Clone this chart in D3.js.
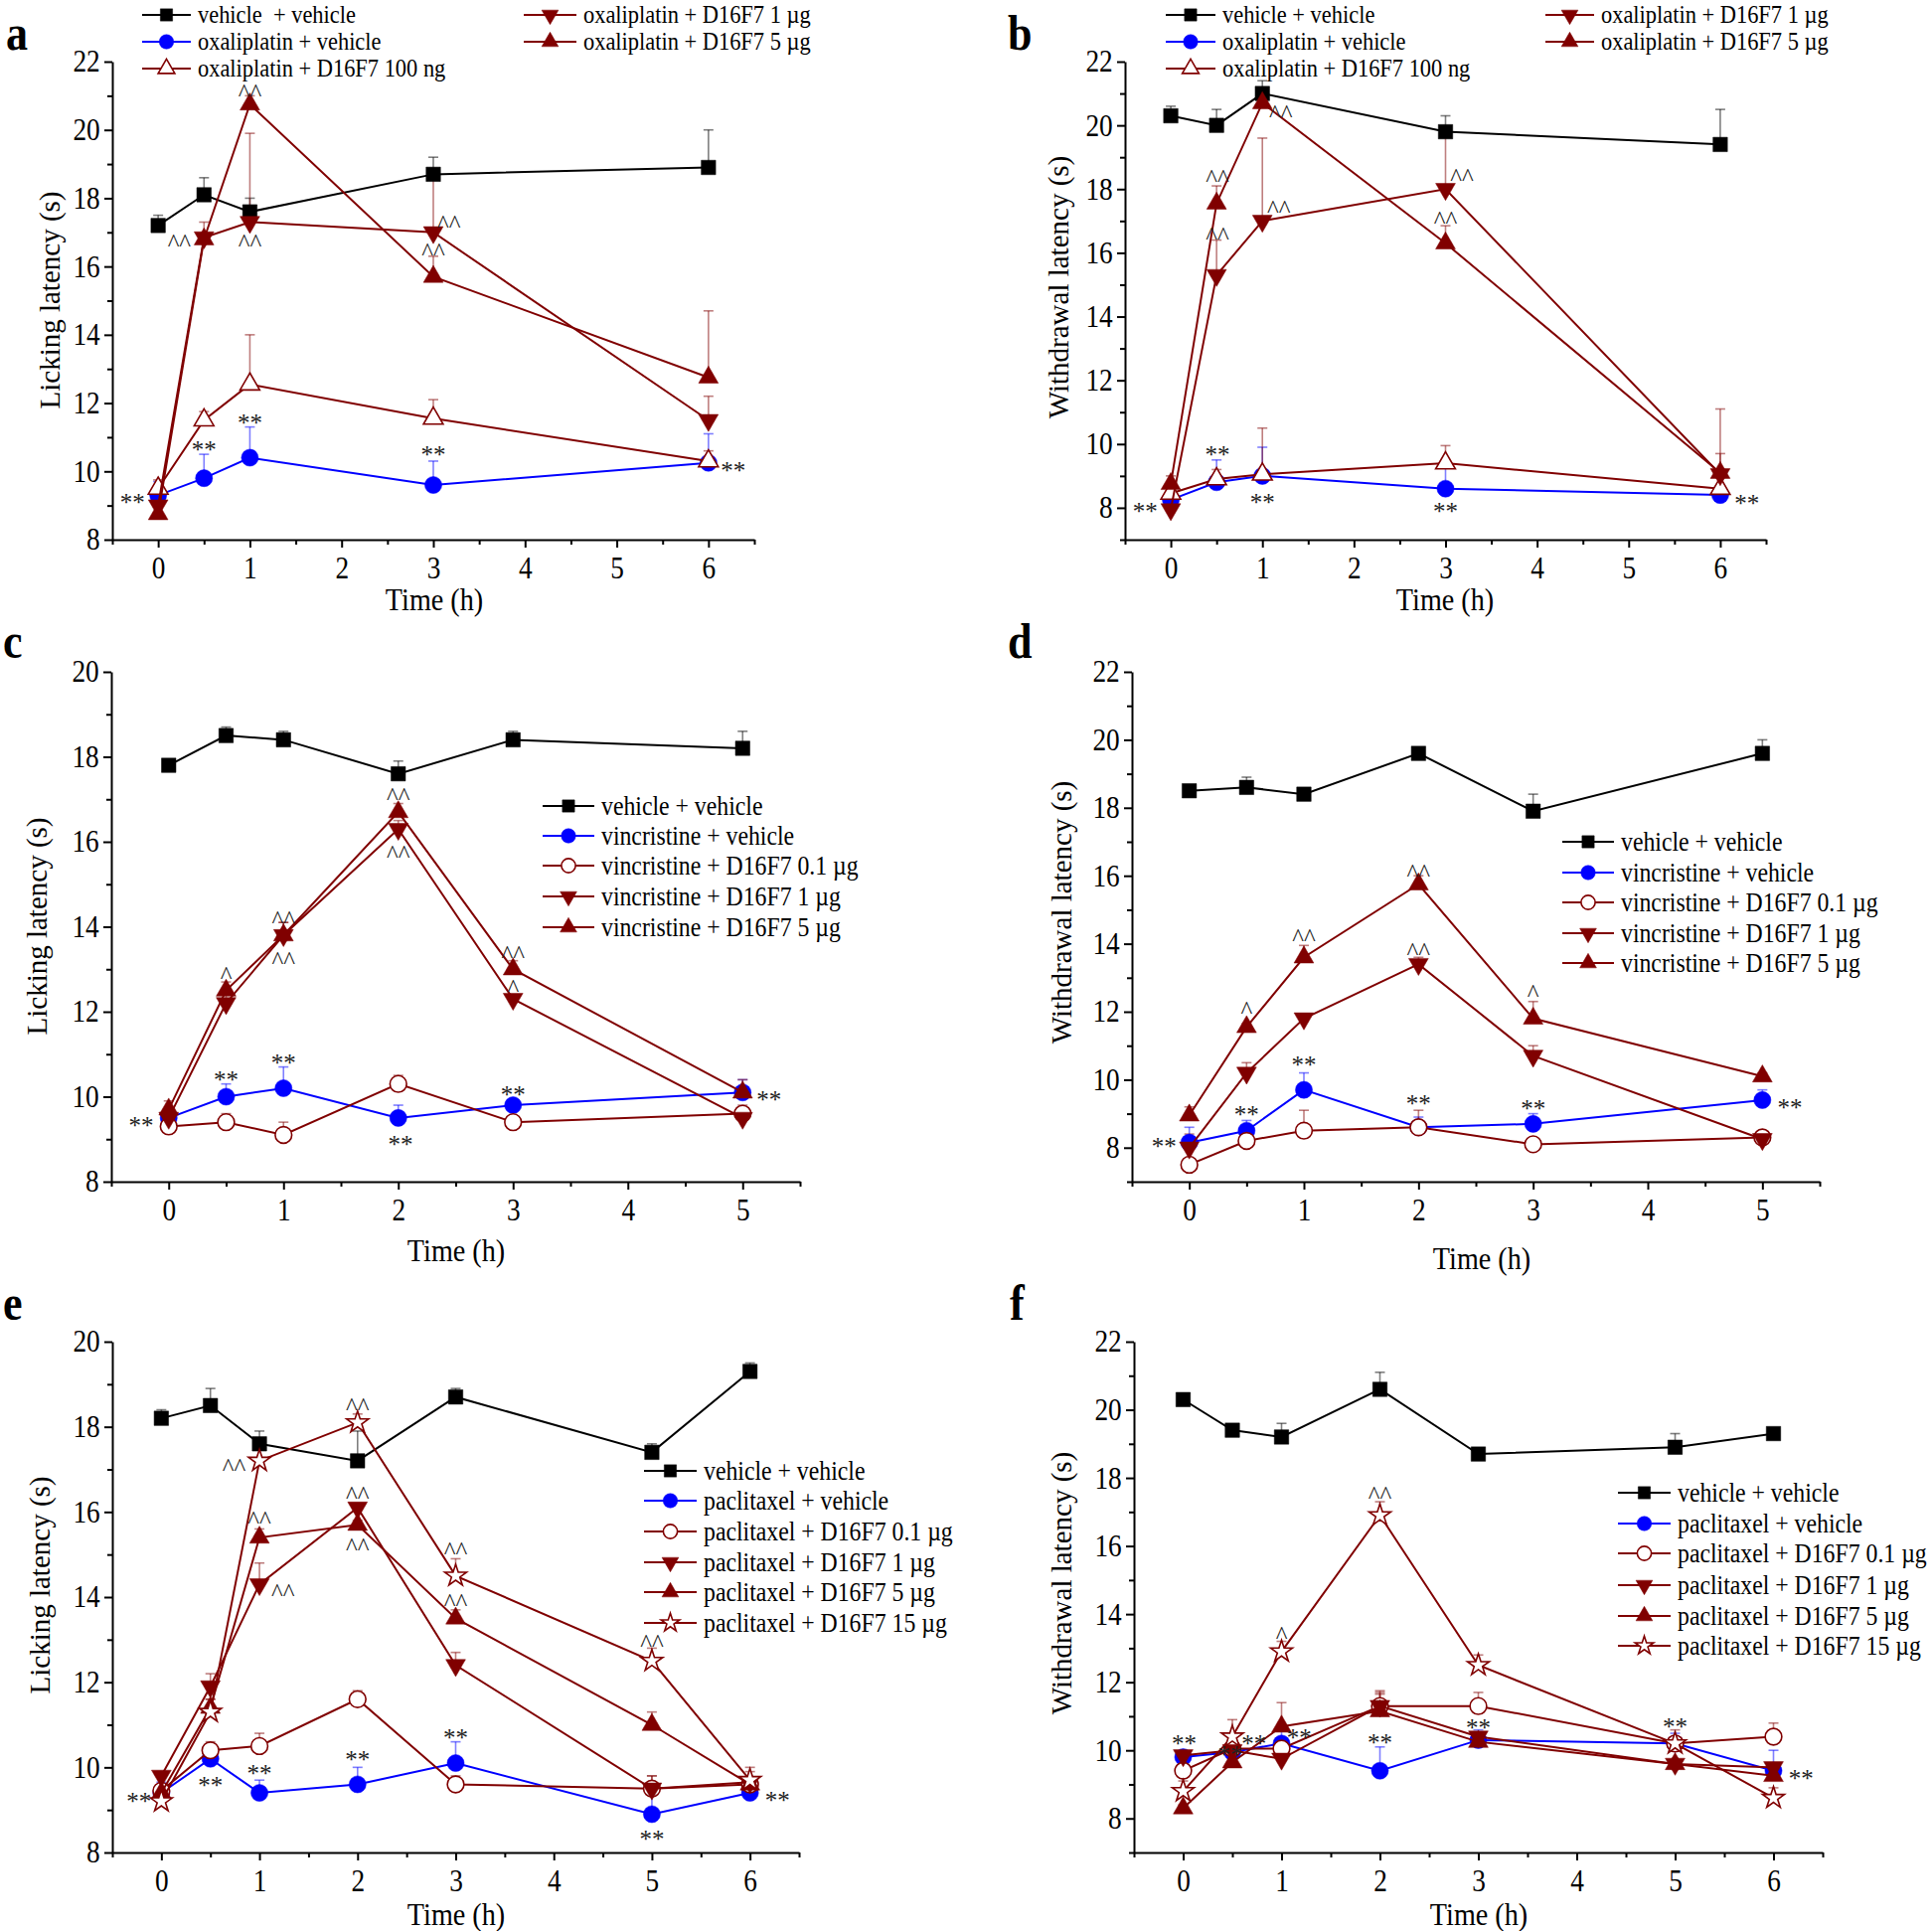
<!DOCTYPE html>
<html>
<head>
<meta charset="utf-8">
<script src="https://cdn.jsdelivr.net/npm/d3@7"></script>
<style>
  body { margin: 0; background: #fff; }
  svg text { font-family: "Liberation Serif", "Times New Roman", serif; }
</style>
</head>
<body>
<div id="chart"></div>
<script>
// ---- data (mean, +SEM) ----
var timesA = [0, 0.5, 1, 3, 6];
var labelsA = ["vehicle  + vehicle", "oxaliplatin + vehicle", "oxaliplatin + D16F7 100 ng", "oxaliplatin + D16F7 1 \u00b5g", "oxaliplatin + D16F7 5 \u00b5g"];
var meansA = [
  [17.2, 18.1, 17.6, 18.7, 18.9],
  [9.3, 9.8, 10.4, 9.6, 10.25],
  [9.5, 11.5, 12.55, 11.55, 10.3],
  [9.0, 16.85, 17.3, 17.0, 11.5],
  [8.75, 16.8, 20.75, 15.7, 12.75]
];
var errsA = [
  [0.3, 0.5, 0.4, 0.5, 1.1],
  [0.4, 0.7, 0.9, 0.7, 0.85],
  [0.25, 0.25, 1.45, 0.55, 0.3],
  [0, 0.45, 2.6, 1.8, 0.7],
  [0, 0, 0.25, 0.6, 1.95]
];
var notesA = [[-0.28, 9.2, "**"], [0.23, 16.8, "^^"], [1, 16.8, "^^"], [1, 21.2, "^^"], [3.17, 17.35, "^^"], [3, 16.55, "^^"],
  [0.5, 10.75, "**"], [1, 11.55, "**"], [3, 10.6, "**"], [6.27, 10.15, "**"]];

var timesB = [0, 0.5, 1, 3, 6];
var labelsB = ["vehicle + vehicle", "oxaliplatin + vehicle", "oxaliplatin + D16F7 100 ng", "oxaliplatin + D16F7 1 \u00b5g", "oxaliplatin + D16F7 5 \u00b5g"];
var meansB = [
  [20.3, 20.0, 21.0, 19.8, 19.4],
  [8.25, 8.8, 9.0, 8.6, 8.4],
  [8.45, 8.9, 9.05, 9.4, 8.6],
  [7.95, 15.3, 17.0, 18.0, 9.05],
  [8.75, 17.55, 20.7, 16.3, 9.1]
];
var errsB = [
  [0.3, 0.5, 0.4, 0.5, 1.1],
  [0.2, 0.7, 0.9, 0.7, 0],
  [0, 0.3, 1.45, 0.55, 0],
  [0, 1.1, 2.6, 1.8, 0.65],
  [0.25, 0.55, 0, 0.55, 2.0]
];
var notesB = [[-0.28, 8.0, "**"], [0.51, 18.45, "^^"], [0.51, 16.65, "^^"], [1.2, 20.5, "^^"], [1.18, 17.5, "^^"], [3.18, 18.5, "^^"],
  [3.0, 17.15, "^^"], [0.51, 9.8, "**"], [1.0, 8.3, "**"], [3.0, 8.0, "**"], [6.29, 8.25, "**"]];

var timesC = [0, 0.5, 1, 2, 3, 5];
var labelsC = ["vehicle + vehicle", "vincristine + vehicle", "vincristine + D16F7 0.1 \u00b5g", "vincristine + D16F7 1 \u00b5g", "vincristine + D16F7 5 \u00b5g"];
var meansC = [
  [17.8, 18.5, 18.4, 17.6, 18.4, 18.2],
  [9.5, 10.0, 10.2, 9.5, 9.8, 10.1],
  [9.3, 9.4, 9.1, 10.3, 9.4, 9.6],
  [9.5, 12.2, 13.8, 16.3, 12.3, 9.5],
  [9.7, 12.5, 13.8, 16.7, 13.0, 10.1]
];
var errsC = [
  [0.1, 0.2, 0.2, 0.3, 0.2, 0.4],
  [0.1, 0.3, 0.5, 0.3, 0.1, 0.3],
  [0.1, 0.2, 0.3, 0.2, 0.1, 0.2],
  [0.1, 0.2, 0.3, 0.2, 0.1, 0.1],
  [0.2, 0.2, 0.3, 0.2, 0.2, 0.3]
];
var notesC = [[-0.24, 9.42, "**"], [0.5, 12.95, "^"], [1, 14.25, "^^"], [1, 13.3, "^^"], [2, 17.15, "^^"], [2, 15.8, "^^"],
  [3, 13.45, "^^"], [3, 12.65, "^"], [0.5, 10.5, "**"], [1, 10.9, "**"], [2.02, 8.97, "**"], [3, 10.15, "**"], [5.23, 10.02, "**"]];

var timesD = [0, 0.5, 1, 2, 3, 5];
var labelsD = labelsC;
var meansD = [
  [18.5, 18.6, 18.4, 19.6, 17.9, 19.6],
  [8.15, 8.5, 9.7, 8.6, 8.7, 9.4],
  [7.5, 8.2, 8.5, 8.6, 8.1, 8.3],
  [8.0, 10.2, 11.8, 13.4, 10.7, 8.25],
  [8.95, 11.55, 13.6, 15.75, 11.8, 10.1]
];
var errsD = [
  [0.1, 0.3, 0.1, 0.1, 0.5, 0.4],
  [0.45, 0.3, 0.5, 0.3, 0.3, 0.3],
  [0.1, 0.1, 0.6, 0.5, 0.1, 0.2],
  [0.4, 0.3, 0.1, 0.2, 0.3, 0.1],
  [0.25, 0.1, 0.35, 0.25, 0.5, 0.1]
];
var notesD = [[-0.22, 8.15, "**"], [0.5, 12.15, "^"], [1, 14.3, "^^"], [2, 16.2, "^^"], [2, 13.9, "^^"], [3, 12.65, "^"],
  [0.5, 9.1, "**"], [1, 10.55, "**"], [2, 9.4, "**"], [3, 9.27, "**"], [5.24, 9.3, "**"]];

var timesE = [0, 0.5, 1, 2, 3, 5, 6];
var labelsE = ["vehicle + vehicle", "paclitaxel + vehicle", "paclitaxel + D16F7 0.1 \u00b5g", "paclitaxel + D16F7 1 \u00b5g", "paclitaxel + D16F7 5 \u00b5g", "paclitaxel + D16F7 15 \u00b5g"];
var meansE = [
  [18.2, 18.5, 17.6, 17.2, 18.7, 17.4, 19.3],
  [9.4, 10.2, 9.4, 9.6, 10.1, 8.9, 9.4],
  [9.45, 10.4, 10.5, 11.6, 9.6, 9.5, 9.6],
  [9.8, 11.9, 14.3, 16.1, 12.4, 9.5, 9.65],
  [9.4, 11.4, 15.4, 15.7, 13.5, 11.0, 9.6],
  [9.2, 11.3, 17.2, 18.1, 14.5, 12.5, 9.7]
];
var errsE = [
  [0.2, 0.4, 0.3, 0.7, 0.2, 0.2, 0.2],
  [0.25, 0.2, 0.3, 0.4, 0.5, 0.6, 0.1],
  [0.1, 0.2, 0.3, 0.2, 0.2, 0.3, 0.3],
  [0.1, 0.3, 0.5, 0.1, 0.3, 0.3, 0.1],
  [0.1, 0.2, 0.2, 0.1, 0.2, 0.3, 0.1],
  [0.1, 0.3, 0.4, 0.2, 0.4, 0.3, 0.3]
];
var notesE = [[-0.23, 9.3, "**"], [0.74, 17.15, "^^"], [1, 15.9, "^^"], [1.24, 14.2, "^^"], [2, 18.57, "^^"], [2, 16.48, "^^"],
  [2, 15.27, "^^"], [3, 15.17, "^^"], [3, 13.96, "^^"], [5, 13.0, "^^"], [0.5, 9.68, "**"], [1, 9.95, "**"], [2, 10.28, "**"],
  [3, 10.79, "**"], [5, 8.42, "**"], [6.28, 9.33, "**"]];

var timesF = [0, 0.5, 1, 2, 3, 5, 6];
var labelsF = labelsE;
var meansF = [
  [20.3, 19.4, 19.2, 20.6, 18.7, 18.9, 19.3],
  [9.8, 9.95, 10.2, 9.4, 10.3, 10.2, 9.4],
  [9.4, 10.05, 10.05, 11.3, 11.3, 10.2, 10.4],
  [9.85, 10.0, 9.75, 11.3, 10.4, 9.6, 9.5],
  [8.3, 9.65, 10.7, 11.15, 10.25, 9.6, 9.25],
  [8.8, 10.4, 12.9, 16.9, 12.5, 10.2, 8.6]
];
var errsF = [
  [0.1, 0.1, 0.4, 0.5, 0.1, 0.4, 0.1],
  [0.1, 0.1, 0.4, 0.7, 0.3, 0.3, 0.6],
  [0.1, 0.2, 0.2, 0.4, 0.4, 0.1, 0.4],
  [0.1, 0.1, 0.1, 0.45, 0.1, 0.1, 0.1],
  [0.1, 0.1, 0.7, 0.5, 0.1, 0.1, 0.1],
  [0.3, 0.5, 0.3, 0.4, 0.3, 0.4, 0.3]
];
var notesF = [[0.01, 10.32, "**"], [0.48, 9.98, "**"], [0.72, 10.32, "**"], [1.18, 10.48, "**"], [1, 13.5, "^"], [2, 17.62, "^^"],
  [2, 10.35, "**"], [3, 10.78, "**"], [5, 10.82, "**"], [6.28, 9.3, "**"]];

// ---- marker styles ----
var RED = "#800000", BLUE = "#0000ff", BLACK = "#000000";
var styles = {
  sq:  { shape: d3.symbolSquare,   size: 210, color: BLACK, fill: BLACK, rot: 0 },
  ci:  { shape: d3.symbolCircle,   size: 230, color: BLUE,  fill: BLUE,  rot: 0 },
  tuo: { shape: d3.symbolTriangle, size: 170, color: RED,   fill: "#fff", rot: 0 },
  cio: { shape: d3.symbolCircle,   size: 220, color: RED,   fill: "#fff", rot: 0 },
  td:  { shape: d3.symbolTriangle, size: 170, color: RED,   fill: RED,   rot: 180 },
  tu:  { shape: d3.symbolTriangle, size: 170, color: RED,   fill: RED,   rot: 0 },
  sto: { shape: d3.symbolStar,     size: 150, color: RED,   fill: "#fff", rot: 0 }
};

// the source figure is slightly stretched vertically, so horizontal text gets narrowed
var SX = 0.88;

var svg = d3.select("#chart").append("svg")
  .attr("width", 1944)
  .attr("height", 1943)
  .style("background", "#fff");

// layout of the six panels
var panels = [
  { letter: "a", lp: [6, 50], times: timesA, means: meansA, errs: errsA, notes: notesA, labels: labelsA, lf: 25.5,
    kinds: ["sq", "ci", "tuo", "td", "tu"], xr: [113, 759], xd: [-0.5, 6.5], yr: [543, 62], yd: [8, 22],
    ytitle: "Licking latency (s)", yt: [50, 302], xt: [437, 603],
    legend: [[143, 192, 15], [143, 192, 42], [143, 192, 69], [527, 580, 15], [527, 580, 42]] },
  { letter: "b", lp: [1014, 50], times: timesB, means: meansB, errs: errsB, notes: notesB, labels: labelsB, lf: 25.5,
    kinds: ["sq", "ci", "tuo", "td", "tu"], xr: [1132, 1777], xd: [-0.5, 6.5], yr: [543, 62], yd: [7, 22],
    ytitle: "Withdrawal latency (s)", yt: [1065, 289], xt: [1454, 603],
    legend: [[1173, 1223, 15], [1173, 1223, 42], [1173, 1223, 69], [1555, 1604, 15], [1555, 1604, 42]] },
  { letter: "c", lp: [3, 662], times: timesC, means: meansC, errs: errsC, notes: notesC, labels: labelsC, lf: 27,
    kinds: ["sq", "ci", "cio", "td", "tu"], xr: [112, 805], xd: [-0.5, 5.5], yr: [1189, 676], yd: [8, 20],
    ytitle: "Licking latency (s)", yt: [37, 932], xt: [459, 1258],
    legend: [[546, 598, 811], [546, 598, 841], [546, 598, 871], [546, 598, 902], [546, 598, 933]] },
  { letter: "d", lp: [1014, 662], times: timesD, means: meansD, errs: errsD, notes: notesD, labels: labelsD, lf: 27,
    kinds: ["sq", "ci", "cio", "td", "tu"], xr: [1139, 1831], xd: [-0.5, 5.5], yr: [1189, 676], yd: [7, 22],
    ytitle: "Withdrawal latency (s)", yt: [1068, 918], xt: [1491, 1266],
    legend: [[1572, 1624, 847], [1572, 1624, 878], [1572, 1624, 908], [1572, 1624, 939], [1572, 1624, 969]] },
  { letter: "e", lp: [3, 1328], times: timesE, means: meansE, errs: errsE, notes: notesE, labels: labelsE, lf: 27,
    kinds: ["sq", "ci", "cio", "td", "tu", "sto"], xr: [113, 804], xd: [-0.5, 6.5], yr: [1864, 1350], yd: [8, 20],
    ytitle: "Licking latency (s)", yt: [40, 1595], xt: [459, 1926],
    legend: [[648, 701, 1480], [648, 701, 1510], [648, 701, 1541], [648, 701, 1572], [648, 701, 1602], [648, 701, 1633]] },
  { letter: "f", lp: [1016, 1328], times: timesF, means: meansF, errs: errsF, notes: notesF, labels: labelsF, lf: 27,
    kinds: ["sq", "ci", "cio", "td", "tu", "sto"], xr: [1141, 1834], xd: [-0.5, 6.5], yr: [1864, 1350], yd: [7, 22],
    ytitle: "Withdrawal latency (s)", yt: [1068, 1593], xt: [1488, 1926],
    legend: [[1628, 1681, 1502], [1628, 1681, 1533], [1628, 1681, 1563], [1628, 1681, 1595], [1628, 1681, 1626], [1628, 1681, 1656]] }
];

function marker(sel, st, size) {
  sel.append("path")
    .attr("d", d3.symbol().type(st.shape).size(size)())
    .attr("fill", st.fill)
    .attr("stroke", st.color)
    .attr("stroke-width", st.fill === "#fff" ? 1.6 : 0.5);
}

// horizontal text narrowed by SX
function ntext(g, x, y, str, size) {
  return g.append("text")
    .attr("transform", "translate(" + x + "," + y + ") scale(" + SX + ",1)")
    .attr("font-size", size)
    .text(str);
}

function drawPanel(p) {
  var x = d3.scaleLinear().domain(p.xd).range(p.xr);
  var y = d3.scaleLinear().domain(p.yd).range(p.yr);
  var g = svg.append("g");

  // axes: labelled major ticks + short minor ticks
  var yMajor = d3.range(Math.ceil(p.yd[0] / 2) * 2, p.yd[1] + 0.01, 2);
  var yMinor = d3.range(p.yd[0], p.yd[1] + 0.01, 1).filter(function(v) { return yMajor.indexOf(v) < 0; });
  var xMajor = d3.range(0, p.xd[1], 1);
  var xMinor = d3.range(p.xd[0], p.xd[1] + 0.01, 0.5).filter(function(v) { return v % 1 !== 0; });

  g.append("g").attr("transform", "translate(" + p.xr[0] + ",0)")
    .call(d3.axisLeft(y).tickValues(yMajor).tickSize(8).tickSizeOuter(0).tickPadding(6).tickFormat(d3.format("d")));
  g.append("g").attr("transform", "translate(" + p.xr[0] + ",0)")
    .call(d3.axisLeft(y).tickValues(yMinor).tickSize(5).tickFormat(""))
    .select(".domain").remove();
  g.append("g").attr("transform", "translate(0," + p.yr[0] + ")")
    .call(d3.axisBottom(x).tickValues(xMajor).tickSize(8).tickSizeOuter(0).tickPadding(9).tickFormat(d3.format("d")));
  g.append("g").attr("transform", "translate(0," + p.yr[0] + ")")
    .call(d3.axisBottom(x).tickValues(xMinor).tickSize(5).tickFormat(""))
    .select(".domain").remove();
  g.selectAll(".domain, .tick line").attr("stroke", "#000").attr("stroke-width", 2);
  g.selectAll(".tick text")
    .attr("font-size", 31).attr("fill", "#000")
    .attr("transform", "scale(" + SX + ",1)")
    .style("font-family", "'Liberation Serif', serif");

  // axis titles
  ntext(g, p.xt[0], p.xt[1], "Time (h)", 32)
    .attr("text-anchor", "middle").attr("dominant-baseline", "central");
  g.append("text")
    .attr("transform", "translate(" + p.yt[0] + "," + p.yt[1] + ") rotate(-90)")
    .attr("text-anchor", "middle").attr("dominant-baseline", "central")
    .attr("font-size", 29)
    .text(p.ytitle);

  // panel letter
  ntext(g, p.lp[0], p.lp[1], p.letter, 50).attr("font-weight", "bold");

  // error bars (upper only, with cap)
  p.means.forEach(function(series, si) {
    var st = styles[p.kinds[si]];
    series.forEach(function(m, i) {
      var e = p.errs[si][i];
      if (!e) return;
      var cx = x(p.times[i]);
      g.append("line")
        .attr("x1", cx).attr("x2", cx).attr("y1", y(m)).attr("y2", y(m + e))
        .attr("stroke", st.color).attr("stroke-opacity", 0.5).attr("stroke-width", 1.6);
      g.append("line")
        .attr("x1", cx - 5).attr("x2", cx + 5).attr("y1", y(m + e)).attr("y2", y(m + e))
        .attr("stroke", st.color).attr("stroke-opacity", 0.5).attr("stroke-width", 1.6);
    });
  });

  // series lines + markers
  var line = d3.line()
    .x(function(d) { return x(d[0]); })
    .y(function(d) { return y(d[1]); });
  p.means.forEach(function(series, si) {
    var st = styles[p.kinds[si]];
    var pts = series.map(function(v, i) { return [p.times[i], v]; });
    g.append("path")
      .datum(pts)
      .attr("d", line)
      .attr("fill", "none")
      .attr("stroke", st.color)
      .attr("stroke-width", 2);
    pts.forEach(function(d) {
      var mg = g.append("g")
        .attr("transform", "translate(" + x(d[0]) + "," + y(d[1]) + ") rotate(" + st.rot + ")");
      marker(mg, st, st.size);
    });
  });

  // significance marks
  p.notes.forEach(function(n) {
    g.append("text")
      .attr("x", x(n[0])).attr("y", y(n[1]))
      .attr("dy", "0.5em")
      .attr("text-anchor", "middle")
      .attr("font-size", 25)
      .attr("fill", "#222")
      .text(n[2]);
  });

  // legend
  p.labels.forEach(function(lab, si) {
    var st = styles[p.kinds[si]];
    var row = p.legend[si];
    g.append("line")
      .attr("x1", row[0]).attr("x2", row[1]).attr("y1", row[2]).attr("y2", row[2])
      .attr("stroke", st.color).attr("stroke-width", 2);
    var mg = g.append("g")
      .attr("transform", "translate(" + (row[0] + row[1]) / 2 + "," + row[2] + ") rotate(" + st.rot + ")");
    marker(mg, st, st.size * 0.72);
    ntext(g, row[1] + 7, row[2], lab, p.lf)
      .attr("dominant-baseline", "central")
      .style("white-space", "pre");
  });
}

panels.forEach(drawPanel);
</script>
</body>
</html>
